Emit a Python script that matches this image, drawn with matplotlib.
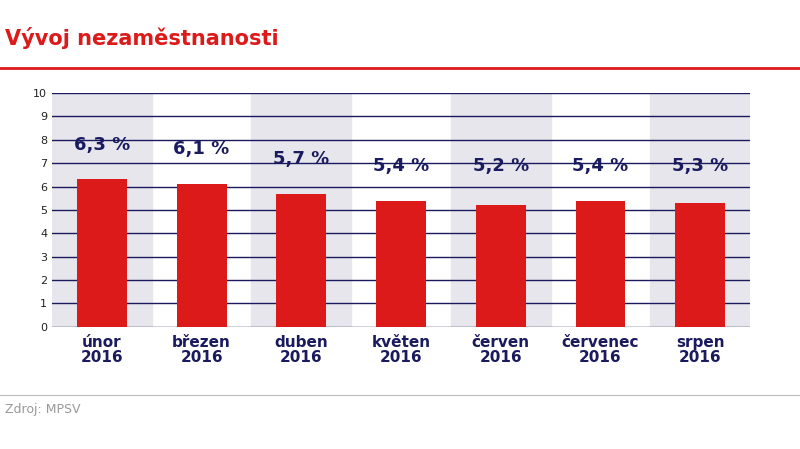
import matplotlib.pyplot as plt
from matplotlib.lines import Line2D

mesice = ["únor", "březen", "duben", "květen", "červen", "červenec", "srpen"]
roky = ["2016"] * 7
hodnoty = [6.3, 6.1, 5.7, 5.4, 5.2, 5.4, 5.3]
popisky = ["6,3 %", "6,1 %", "5,7 %", "5,4 %", "5,2 %", "5,4 %", "5,3 %"]

navy = "#1a1a5e"
red = "#dc1a1a"

fig = plt.figure(figsize=(8, 4.49), dpi=100)
fig.text(0.006, 0.915, "Vývoj nezaměstnanosti", color=red, fontsize=15, fontweight="bold", va="center")
fig.add_artist(Line2D([0, 1], [0.848, 0.848], color=red, lw=2))
fig.add_artist(Line2D([0, 1], [0.12, 0.12], color="#bbbbbb", lw=0.8))
fig.text(0.006, 0.087, "Zdroj: MPSV", color="#999999", fontsize=9, va="center")

ax = fig.add_axes([0.065, 0.272, 0.8725, 0.521])
x = range(len(hodnoty))
for i in x:
    if i % 2 == 0:
        ax.axvspan(i - 0.5, i + 0.5, color="#e6e6ec", zorder=0)
for y in range(0, 11):
    ax.axhline(y, color=navy, lw=1, zorder=1)
ax.bar(x, hodnoty, width=0.5, color=red, zorder=2)
for i, (v, t) in enumerate(zip(hodnoty, popisky)):
    ax.text(i, max(v + 1.1, 6.5), t, ha="center", va="bottom", color=navy,
            fontsize=13, fontweight="bold")
ax.set_xlim(-0.5, len(hodnoty) - 0.5)
ax.set_ylim(0, 10)
ax.set_yticks(range(0, 11))
ax.set_xticks(list(x))
ax.set_xticklabels([f"{m}\n{r}" for m, r in zip(mesice, roky)], color=navy,
                   fontsize=11, fontweight="bold", linespacing=1.0)
ax.tick_params(axis="y", labelsize=8, length=0, colors="#222222")
ax.tick_params(axis="x", length=0, pad=6)
for s in ax.spines.values():
    s.set_visible(False)

fig.savefig("out.png", dpi=100)
